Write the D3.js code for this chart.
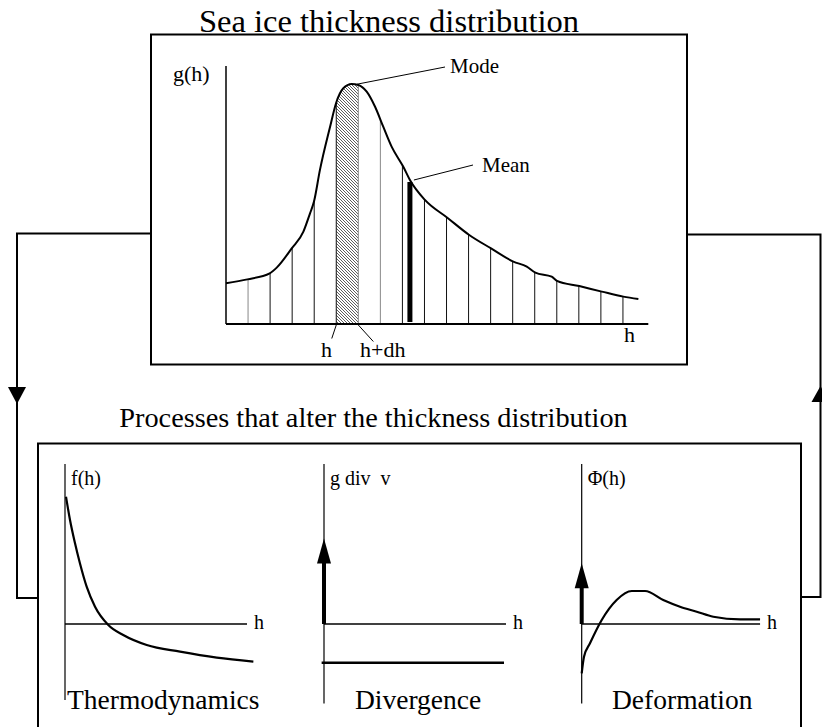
<!DOCTYPE html>
<html>
<head>
<meta charset="utf-8">
<script src="https://cdn.jsdelivr.net/npm/d3@7"></script>
<style>
  html, body { margin: 0; padding: 0; background: #fff; }
  svg { display: block; }
</style>
</head>
<body>
<script>
// ---------------- DATA ----------------
// Thickness distribution curve g(h) (h in bin units)
const distH = [0, 0.97, 1.98, 2.30, 2.98, 3.51, 3.81, 3.99, 4.26, 4.72, 4.99, 5.32, 5.70, 6.00, 6.38, 6.76, 7.13, 7.51, 8.04, 8.34, 9.02, 10.05, 11.03, 12.02, 13.03, 13.64, 14.03, 14.77, 15.01, 16.02, 17.04, 18.02, 18.70];
const distG = [0.170, 0.186, 0.211, 0.235, 0.315, 0.385, 0.461, 0.510, 0.642, 0.822, 0.920, 0.982, 1.000, 0.996, 0.968, 0.905, 0.822, 0.739, 0.655, 0.600, 0.517, 0.442, 0.371, 0.315, 0.260, 0.239, 0.214, 0.197, 0.180, 0.158, 0.135, 0.114, 0.104];
const binEdges = [1, 2, 3, 4, 5, 6, 7, 8, 9, 10, 11, 12, 13, 14, 15, 16, 17, 18];
const hatchedBin = [5, 6];
const modeH = 5.93;
const meanH = 8.34;

// Thermodynamics f(h)
const thermoH = [0.055, 0.275, 0.55, 0.82, 1.19, 1.65, 2.38, 3.20, 4.49, 6.32, 8.34, 10.35];
const thermoF = [1.591, 1.30, 1.009, 0.759, 0.466, 0.216, -0.0125, -0.1375, -0.2625, -0.346, -0.421, -0.471];

// Divergence
const divArrow = 1.07;
const divLevel = -0.484;
const divSpan = [-0.13, 9.89];

// Deformation Phi(h)
const deformH = [0, 0.126, 0.456, 1.10, 1.92, 2.75, 3.48, 4.48, 5.40, 6.32, 7.23, 8.70, 9.80];
const deformP = [-0.616, -0.409, -0.241, 0.05, 0.30, 0.4125, 0.4125, 0.30, 0.216, 0.154, 0.091, 0.059, 0.059];
const deformArrow = 0.76;

const panelNames = ["Thermodynamics", "Divergence", "Deformation"];
const panelYLabels = ["f(h)", "g div  v", "\u03A6(h)"];

// ---------------- DRAW ----------------
const FONT = "'Liberation Serif', 'Times New Roman', Times, serif";
const W = 822, H = 727;
const svg = d3.select("body").append("svg").attr("width", W).attr("height", H)
  .attr("font-family", FONT);
svg.append("rect").attr("width", W).attr("height", H).attr("fill", "#fff");

function label(parent, xx, yy, size, str, anchor) {
  return parent.append("text").attr("x", xx).attr("y", yy)
    .attr("font-family", FONT).attr("font-size", size)
    .attr("text-anchor", anchor || "start").attr("fill", "#000")
    .style("white-space", "pre").text(str);
}

const defs = svg.append("defs");
const pat = defs.append("pattern").attr("id", "hatch")
  .attr("patternUnits", "userSpaceOnUse").attr("width", 3).attr("height", 3);
pat.append("rect").attr("width", 3).attr("height", 3).attr("fill", "#fff");
pat.append("path").attr("d", "M0,0 L3,3 M-1,2 L1,4 M2,-1 L4,1")
  .attr("stroke", "#333").attr("stroke-width", 0.8);

// Titles
label(svg, 389, 32, 32.5, "Sea ice thickness distribution", "middle");
label(svg, 373.5, 427, 28.3, "Processes that alter the thickness distribution", "middle");

// Top box
svg.append("rect").attr("x", 151).attr("y", 34.5).attr("width", 536).attr("height", 330)
  .attr("fill", "none").attr("stroke", "#000").attr("stroke-width", 2);

// Bottom box (open at bottom)
svg.append("path").attr("d", "M38,740 V443.5 H801 V740")
  .attr("fill", "none").attr("stroke", "#000").attr("stroke-width", 2);

// Connectors
svg.append("path").attr("d", "M151,233.5 H17 V598 H38")
  .attr("fill", "none").attr("stroke", "#000").attr("stroke-width", 2);
svg.append("path").attr("d", "M687,234.5 H820.5 V597 H801")
  .attr("fill", "none").attr("stroke", "#000").attr("stroke-width", 2);
svg.append("path").attr("d", "M8,387 L26,387 L17,404 Z").attr("fill", "#000");
svg.append("path").attr("d", "M811.5,402 L829.5,402 L820.5,386 Z").attr("fill", "#000");

// ---- Top distribution chart ----
const x = d3.scaleLinear().domain([0, 19.15]).range([226, 648.3]);
const y = d3.scaleLinear().domain([0, 1]).range([324, 84]);

function gAt(h) {
  const i = Math.max(1, Math.min(distH.length - 1, d3.bisectLeft(distH, h)));
  const h0 = distH[i - 1], h1 = distH[i];
  const t = (h - h0) / (h1 - h0);
  return distG[i - 1] + t * (distG[i] - distG[i - 1]);
}

// hatched bin
const hatchPts = [[hatchedBin[0], gAt(hatchedBin[0])]]
  .concat(distH.map((h, i) => [h, distG[i]]).filter(d => d[0] > hatchedBin[0] && d[0] < hatchedBin[1]))
  .concat([[hatchedBin[1], gAt(hatchedBin[1])]]);
svg.append("path").datum(hatchPts)
  .attr("d", d3.area().x(d => x(d[0])).y0(y(0)).y1(d => y(d[1])))
  .attr("fill", "url(#hatch)").attr("stroke", "none");

// bin edge lines
svg.append("g").selectAll("line").data(binEdges).join("line")
  .attr("x1", d => x(d)).attr("x2", d => x(d))
  .attr("y1", y(0)).attr("y2", d => y(gAt(d)))
  .attr("stroke", d => (d === 1 || d === 7 || d === 6) ? "#888" : "#111")
  .attr("stroke-width", 1);

// mean bar
svg.append("line").attr("x1", x(meanH)).attr("x2", x(meanH))
  .attr("y1", y(0) - 2).attr("y2", y(gAt(meanH)) + 2)
  .attr("stroke", "#000").attr("stroke-width", 5);

// axes
svg.append("line").attr("x1", x(0)).attr("x2", x(0)).attr("y1", y(1.075)).attr("y2", y(0))
  .attr("stroke", "#000").attr("stroke-width", 1.5);
svg.append("line").attr("x1", x(0)).attr("x2", x(19.15)).attr("y1", y(0)).attr("y2", y(0))
  .attr("stroke", "#000").attr("stroke-width", 1.8);

// curve
svg.append("path").datum(distH.map((h, i) => [h, distG[i]]))
  .attr("d", d3.line().x(d => x(d[0])).y(d => y(d[1])).curve(d3.curveMonotoneX))
  .attr("fill", "none").attr("stroke", "#000").attr("stroke-width", 2);

// annotations
svg.append("line").attr("x1", x(modeH)).attr("y1", y(gAt(modeH)) - 0.5)
  .attr("x2", 445).attr("y2", 67).attr("stroke", "#000").attr("stroke-width", 1);
label(svg, 450, 73, 21, "Mode");
svg.append("line").attr("x1", x(meanH) + 4).attr("y1", y(gAt(meanH)))
  .attr("x2", 473).attr("y2", 165).attr("stroke", "#000").attr("stroke-width", 1);
label(svg, 482, 172, 21, "Mean");

label(svg, 173, 81, 22, "g(h)");
label(svg, 624, 342, 22, "h");
svg.append("line").attr("x1", x(hatchedBin[0])).attr("y1", y(0) + 1)
  .attr("x2", x(hatchedBin[0]) - 4.5).attr("y2", 338.5).attr("stroke", "#000").attr("stroke-width", 1);
svg.append("line").attr("x1", x(hatchedBin[1])).attr("y1", y(0) + 1)
  .attr("x2", x(hatchedBin[1]) + 15).attr("y2", 341.5).attr("stroke", "#000").attr("stroke-width", 1);
label(svg, 321, 357, 22, "h");
label(svg, 360, 357, 22, "h+dh");

// ---- Bottom panels ----
const vy = d3.scaleLinear().domain([0, 1]).range([624, 544]);
const panelX0 = [65, 324, 581.7];
const panelAxisEnd = [10, 10, 9.8];
const panelAxisBottom = [-0.95, -0.995, -0.995];
const panelLabelX = [67, 355, 612];

panelX0.forEach((x0, p) => {
  const px = d3.scaleLinear().domain([0, 10]).range([x0, x0 + 182]);
  const g = svg.append("g");
  g.append("line").attr("x1", px(0)).attr("x2", px(0)).attr("y1", vy(2)).attr("y2", vy(panelAxisBottom[p]))
    .attr("stroke", "#000").attr("stroke-width", 1.2);
  g.append("line").attr("x1", px(0)).attr("x2", px(panelAxisEnd[p])).attr("y1", vy(0)).attr("y2", vy(0))
    .attr("stroke", "#000").attr("stroke-width", 1.5);
  label(g, px(panelAxisEnd[p]) + 7, vy(0) + 5, 20, "h");
  label(g, px(0) + 6, 485, 20, panelYLabels[p]);
  label(g, panelLabelX[p], 709, 27.5, panelNames[p]);

  const arrow = (v) => {
    g.append("line").attr("x1", px(0)).attr("x2", px(0)).attr("y1", vy(0)).attr("y2", vy(v) + 20)
      .attr("stroke", "#000").attr("stroke-width", 4);
    g.append("path").attr("d", `M${px(0) - 7},${vy(v) + 25} L${px(0) + 7},${vy(v) + 25} L${px(0)},${vy(v)} Z`)
      .attr("fill", "#000");
  };

  if (p === 0) {
    g.append("path").datum(thermoH.map((h, i) => [h, thermoF[i]]))
      .attr("d", d3.line().x(d => px(d[0])).y(d => vy(d[1])).curve(d3.curveMonotoneX))
      .attr("fill", "none").attr("stroke", "#000").attr("stroke-width", 2.2);
  } else if (p === 1) {
    arrow(divArrow);
    g.append("line").attr("x1", px(divSpan[0])).attr("x2", px(divSpan[1]))
      .attr("y1", vy(divLevel)).attr("y2", vy(divLevel)).attr("stroke", "#000").attr("stroke-width", 2.5);
  } else {
    arrow(deformArrow);
    g.append("path").datum(deformH.map((h, i) => [h, deformP[i]]))
      .attr("d", d3.line().x(d => px(d[0])).y(d => vy(d[1])).curve(d3.curveMonotoneX))
      .attr("fill", "none").attr("stroke", "#000").attr("stroke-width", 2.2);
  }
});
</script>
</body>
</html>
